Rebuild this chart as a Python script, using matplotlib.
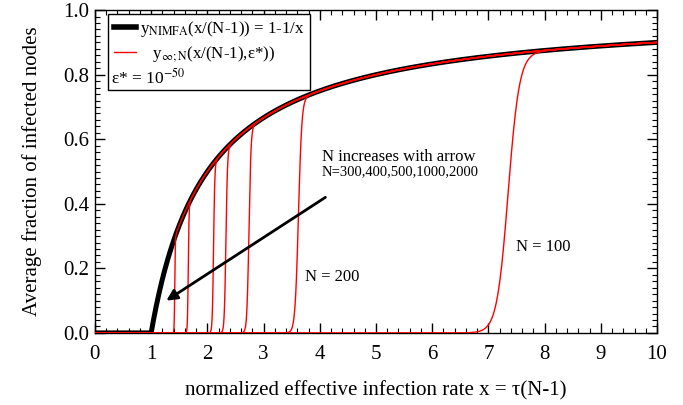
import numpy as np
import matplotlib
matplotlib.use("Agg")
import matplotlib.pyplot as plt
from matplotlib.ticker import MultipleLocator
from matplotlib.lines import Line2D

plt.rcParams['font.family'] = ['Liberation Serif', 'DejaVu Serif']
plt.rcParams['mathtext.fontset'] = 'stix'

# --- data ---
N_values = [100, 200, 300, 400, 500, 1000, 2000]
# x where each finite-N curve jumps up, and the width of the jump
jump_centers = [7.35, 3.62, 2.74, 2.33, 2.11, 1.66, 1.42]
jump_widths = [0.10, 0.030, 0.018, 0.014, 0.011, 0.007, 0.005]
x_ticks = [0, 1, 2, 3, 4, 5, 6, 7, 8, 9, 10]
y_ticks = [0.0, 0.2, 0.4, 0.6, 0.8, 1.0]

x = np.linspace(0.0, 10.0, 4001)
y_nimfa = np.where(x > 1, 1 - 1 / np.maximum(x, 1e-9), 0.0)

fig = plt.figure(figsize=(6.83, 4.05), dpi=100)
ax = fig.add_axes([0.139, 0.178, 0.823, 0.797])

ax.plot(x, y_nimfa, color='black', lw=3.6, solid_capstyle='butt', zorder=2)
for c, w in zip(jump_centers, jump_widths):
    y = y_nimfa / (1 + np.exp(-(x - c) / w))
    ax.plot(x, y, color='red', lw=1.0, zorder=3)

ax.set_xlim(0, 10)
ax.set_ylim(0, 1.0)
ax.set_xticks(x_ticks)
ax.set_yticks(y_ticks)
ax.set_yticklabels([f"{v:.1f}" for v in y_ticks])
ax.xaxis.set_minor_locator(MultipleLocator(0.2))
ax.yaxis.set_minor_locator(MultipleLocator(0.02))
ax.tick_params(which='both', direction='in', top=True, right=True, labelsize=15)
ax.tick_params(axis='x', which='major', pad=9)
ax.tick_params(axis='y', which='major', pad=4)
ax.tick_params(which='major', length=7, width=1)
ax.tick_params(which='minor', length=3.5, width=0.8)
for s in ax.spines.values():
    s.set_linewidth(1.0)

ax.set_xlabel("normalized effective infection rate x = τ(N-1)", fontsize=15, labelpad=12)
ax.set_ylabel("Average fraction of infected nodes", fontsize=15, labelpad=15)

handles = [Line2D([], [], color='black', lw=4),
           Line2D([], [], color='red', lw=1),
           Line2D([], [], color='none')]
labels = ["y$_{\\rm NIMFA}$(x/(N-1)) = 1-1/x",
          "   y$_{\\infty;\\rm N}$(x/(N-1),ε*))",
          " "]
leg = ax.legend(handles, labels, loc='upper left', bbox_to_anchor=(0.024, 0.988),
                fontsize=12.2, frameon=True, fancybox=False, edgecolor='black',
                framealpha=1, handlelength=1.3, handletextpad=0.25,
                borderpad=0.3, labelspacing=0.3, borderaxespad=0)
leg.get_frame().set_linewidth(1.0)
ax.text(0.029, 0.79, "ε* = 10$^{-50}$", transform=ax.transAxes, fontsize=12.5,
        ha='left', va='center', zorder=6)

ax.annotate("", xy=(1.27, 0.10), xytext=(4.1, 0.42),
            arrowprops=dict(arrowstyle='-|>', color='black', lw=2,
                            mutation_scale=16, shrinkA=0, shrinkB=0))
ax.text(4.04, 0.545, "N increases with arrow", fontsize=12, ha='left', va='center')
ax.text(4.04, 0.50, "N=300,400,500,1000,2000", fontsize=10.5, ha='left', va='center')
ax.text(3.74, 0.173, "N = 200", fontsize=12, ha='left', va='center')
ax.text(7.49, 0.266, "N = 100", fontsize=12, ha='left', va='center')

fig.savefig("out.png", dpi=100)
